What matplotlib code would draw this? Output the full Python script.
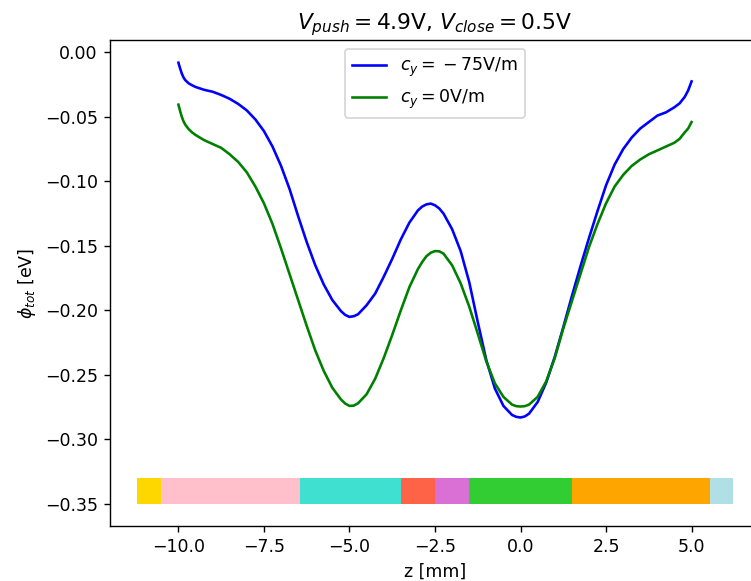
import numpy as np
import matplotlib
matplotlib.use("Agg")
import matplotlib.pyplot as plt

z = [-10.0, -9.95, -9.9, -9.85, -9.8, -9.7, -9.6, -9.5, -9.25, -9.0, -8.75, -8.5, -8.25, -8.0, -7.75, -7.5, -7.25,
     -7.0, -6.75, -6.5, -6.25, -6.0, -5.75, -5.5, -5.25, -5.125, -5.0, -4.875, -4.75, -4.5, -4.25,
     -4.0, -3.75, -3.5, -3.25, -3.0, -2.875, -2.75, -2.625, -2.5, -2.375, -2.25, -2.0, -1.75, -1.5, -1.25,
     -1.0, -0.75, -0.5, -0.25, -0.125, 0.0, 0.125, 0.25, 0.5, 0.75, 1.0, 1.25, 1.5, 1.75,
     2.0, 2.25, 2.5, 2.75, 3.0, 3.25, 3.5, 3.75, 4.0, 4.25, 4.5, 4.65, 4.8, 4.9, 5.0]

phi_cy75 = [-0.008, -0.0125, -0.0165, -0.0195, -0.0215, -0.024, -0.0255, -0.0268, -0.029, -0.0305, -0.033, -0.036, -0.040, -0.045, -0.052, -0.061, -0.073,
            -0.088, -0.106, -0.127, -0.147, -0.165, -0.180, -0.192, -0.2005, -0.2035, -0.205, -0.2045, -0.203, -0.196, -0.187,
            -0.174, -0.160, -0.145, -0.132, -0.1225, -0.1195, -0.1178, -0.1172, -0.1185, -0.121, -0.125, -0.137, -0.154, -0.178, -0.209,
            -0.2385, -0.2605, -0.274, -0.281, -0.2825, -0.283, -0.2822, -0.280, -0.271, -0.256, -0.236, -0.213, -0.189, -0.166,
            -0.144, -0.123, -0.103, -0.087, -0.075, -0.066, -0.059, -0.054, -0.049, -0.0465, -0.0425, -0.0395, -0.0345, -0.0295, -0.0225]

phi_cy0 = [-0.0405, -0.0455, -0.050, -0.0535, -0.056, -0.0595, -0.062, -0.064, -0.068, -0.071, -0.074, -0.079, -0.085, -0.093, -0.104, -0.117, -0.133,
           -0.152, -0.172, -0.192, -0.212, -0.231, -0.247, -0.260, -0.269, -0.2722, -0.274, -0.2738, -0.272, -0.265, -0.253,
           -0.237, -0.219, -0.200, -0.182, -0.168, -0.1625, -0.158, -0.1553, -0.154, -0.1542, -0.156, -0.165, -0.179, -0.197, -0.218,
           -0.2395, -0.2565, -0.267, -0.273, -0.2742, -0.2745, -0.2742, -0.273, -0.267, -0.255, -0.237, -0.214, -0.193, -0.172,
           -0.151, -0.133, -0.117, -0.104, -0.095, -0.088, -0.083, -0.079, -0.076, -0.073, -0.070, -0.067, -0.062, -0.059, -0.054]

electrode_edges = [-11.2, -10.5, -6.45, -3.5, -2.5, -1.5, 1.5, 5.55, 6.2]
electrode_colors = ['gold', 'pink', 'turquoise', 'tomato', 'orchid', 'limegreen', 'orange', 'powderblue']
electrode_bottom = -0.35
electrode_height = 0.02

W, H, DPI = 751, 581, 125
fig = plt.figure(figsize=(W / DPI, H / DPI), dpi=DPI)
ax = fig.add_axes([110 / W, (H - 526) / H, (760 - 110) / W, (526 - 40) / H])

ax.plot(z, phi_cy75, color='blue', label=r'$c_y = \:-\:75$V/m')
ax.plot(z, phi_cy0, color='green', label=r'$c_y = 0$V/m')

lefts = electrode_edges[:-1]
widths = np.diff(electrode_edges)
ax.bar(lefts, electrode_height, width=widths, bottom=electrode_bottom, align='edge',
       color=electrode_colors)

ax.set_xlim(-12.0, 7.0)
ax.set_ylim(-0.3671, 0.0096)
ax.set_xticks([-10.0, -7.5, -5.0, -2.5, 0.0, 2.5, 5.0])
ax.set_yticks([0.0, -0.05, -0.10, -0.15, -0.20, -0.25, -0.30, -0.35])
ax.set_xlabel('z [mm]')
ax.set_ylabel(r'$\phi_{tot}$ [eV]')
ax.set_title(r'$V_{push} = 4.9$V, $V_{close} = 0.5$V', fontsize=12.5)
ax.legend(loc='upper center')

fig.savefig('out.png', dpi=DPI)
